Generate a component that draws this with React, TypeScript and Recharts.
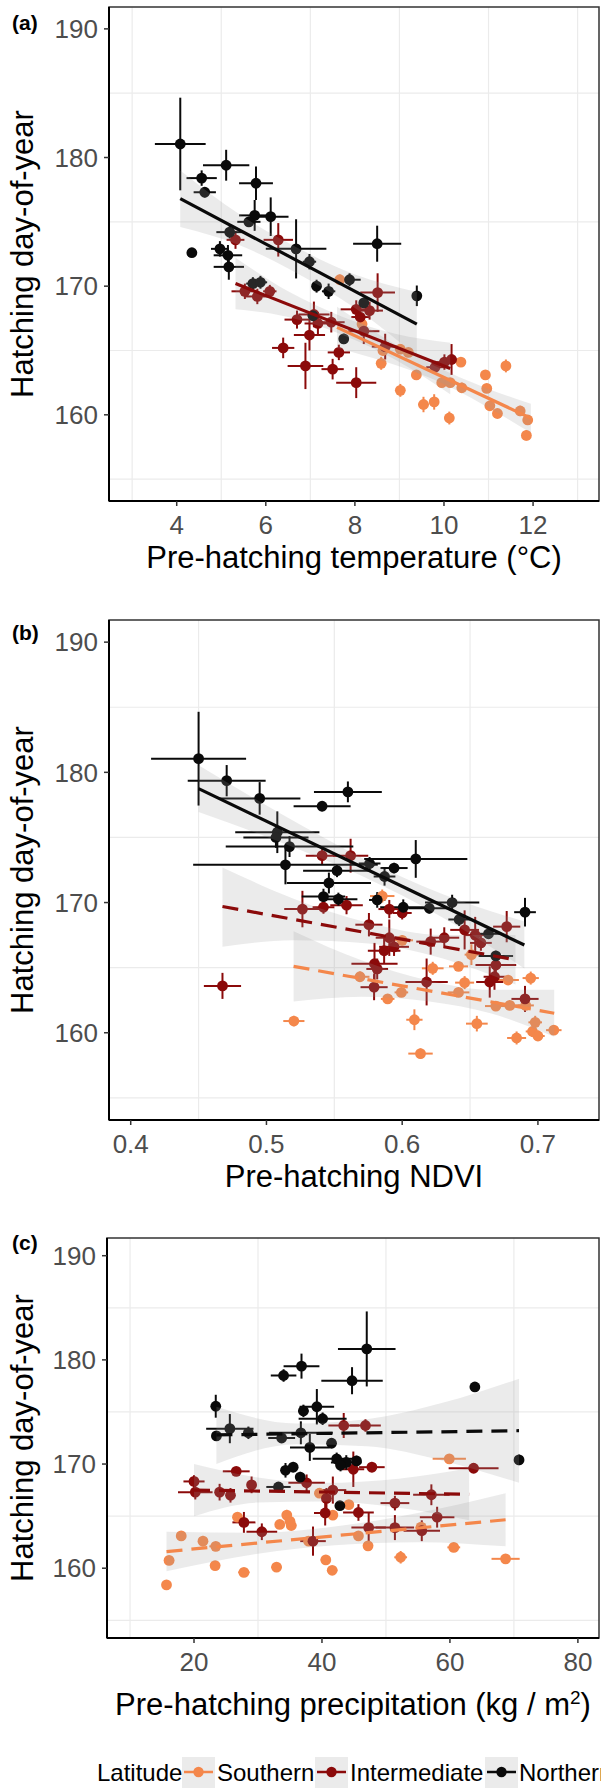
import React from "react";
import {
  ComposedChart,
  Scatter,
  ErrorBar,
  Area,
  Line,
  XAxis,
  YAxis,
  CartesianGrid,
  ReferenceArea,
} from "recharts";

const FONT = '"Liberation Sans", Arial, Helvetica, sans-serif';
const SOUTH = "#F4874B";
const MID = "#8B0A0A";
const NORTH = "#0A0A0A";

// shared y axis
const yDomain = [153.3, 191.7];
const yTicks = [160, 170, 180, 190];
const yGrid = [155, 165, 175, 185];

// x axes
const aDomain = [2.48, 13.48];
const aTicks = [4, 6, 8, 10, 12];
const aGrid = [3, 5, 7, 9, 11, 13];
const bDomain = [0.384, 0.745];
const bTicks = [0.4, 0.5, 0.6, 0.7];
const bGrid = [0.45, 0.55, 0.65];
const cDomain = [6.4, 83.3];
const cTicks = [20, 40, 60, 80];
const cGrid = [10, 30, 50, 70];

// points: [x, y, xerr, yerr]
const aNorth = [
  [4.08, 181.05, 0.57, 3.6], [4.56, 178.4, 0.34, 0.6], [4.63, 177.3, 0.25, 0.4],
  [5.11, 179.4, 0.52, 1.2], [5.78, 178.0, 0.38, 1.3], [5.75, 175.5, 0.35, 1.2],
  [5.62, 175.0, 0.26, 0.4], [6.11, 175.4, 0.4, 1.5], [5.19, 174.2, 0.3, 0.5],
  [4.34, 172.6, 0.08, 0.3], [4.97, 172.9, 0.2, 0.6], [5.15, 172.4, 0.32, 0.8],
  [5.17, 171.5, 0.34, 1.0], [6.68, 172.9, 0.68, 2.3], [6.98, 171.9, 0.15, 0.6],
  [8.5, 173.3, 0.54, 1.4], [5.71, 170.2, 0.15, 0.5], [5.88, 170.3, 0.15, 0.5],
  [7.14, 170.0, 0.1, 0.5], [7.41, 169.6, 0.15, 0.6], [7.88, 170.5, 0.25, 0.5],
  [9.39, 169.25, 0.1, 0.8], [7.06, 167.7, 0.12, 0.4], [8.2, 168.7, 0.1, 0.4],
  [7.75, 165.9, 0.1, 0.4],
];
const aMid = [
  [5.32, 173.6, 0.2, 0.7], [6.28, 173.6, 0.33, 1.3], [8.51, 169.5, 0.39, 1.5],
  [5.53, 169.6, 0.3, 0.6], [5.81, 169.2, 0.3, 0.6], [6.09, 169.6, 0.15, 0.5],
  [6.7, 167.4, 0.28, 0.7], [7.08, 167.8, 0.35, 1.0], [7.17, 167.1, 0.3, 0.9],
  [7.47, 167.2, 0.3, 0.8], [6.98, 166.2, 0.35, 1.2], [6.39, 165.2, 0.25, 0.8],
  [6.89, 163.8, 0.4, 1.8], [7.5, 163.55, 0.25, 0.8], [7.64, 164.85, 0.25, 0.6],
  [8.03, 162.5, 0.45, 1.2], [8.03, 168.2, 0.35, 0.7], [8.33, 168.1, 0.3, 0.7],
  [8.12, 167.6, 0.2, 0.5], [8.2, 166.5, 0.35, 1.0], [8.68, 165.3, 0.3, 1.0],
  [9.8, 163.7, 0.2, 0.5], [10.01, 164.1, 0.2, 0.6], [10.17, 164.3, 0.2, 1.2],
];
const aSouth = [
  [7.66, 170.5, 0.1, 0.4], [8.16, 167.05, 0.1, 0.4], [8.59, 164.0, 0.1, 0.5],
  [8.63, 165.0, 0.1, 0.4], [9.02, 165.1, 0.1, 0.3], [9.2, 164.85, 0.1, 0.3],
  [9.02, 161.9, 0.1, 0.5], [9.38, 163.1, 0.1, 0.3], [9.54, 160.8, 0.12, 0.6],
  [9.78, 161.0, 0.1, 0.6], [9.95, 162.5, 0.1, 0.3], [10.14, 162.5, 0.1, 0.3],
  [10.12, 159.75, 0.1, 0.5], [10.38, 164.1, 0.1, 0.3], [10.4, 162.1, 0.1, 0.4],
  [10.93, 163.1, 0.1, 0.3], [10.96, 162.05, 0.1, 0.3], [11.03, 160.7, 0.1, 0.3],
  [11.2, 160.1, 0.1, 0.3], [11.39, 163.8, 0.1, 0.5], [11.71, 160.3, 0.1, 0.4],
  [11.88, 159.6, 0.1, 0.3], [11.85, 158.4, 0.1, 0.4],
];

const bNorth = [
  [0.45, 181.05, 0.035, 3.6], [0.4707, 179.36, 0.0287, 1.2], [0.495, 178.0, 0.03, 1.25],
  [0.541, 177.4, 0.021, 0.4], [0.56, 178.5, 0.025, 0.8], [0.508, 175.4, 0.031, 1.6],
  [0.507, 175.0, 0.024, 0.8], [0.517, 174.3, 0.047, 0.8], [0.514, 172.9, 0.068, 1.5],
  [0.576, 173.0, 0.008, 0.5], [0.552, 172.45, 0.025, 0.5], [0.594, 172.65, 0.01, 0.4],
  [0.61, 173.35, 0.038, 1.45], [0.587, 172.0, 0.008, 0.7], [0.546, 171.5, 0.031, 0.8],
  [0.542, 170.46, 0.016, 0.6], [0.553, 170.26, 0.014, 0.5], [0.5816, 170.2, 0.006, 0.6],
  [0.6008, 169.64, 0.017, 0.6], [0.62, 169.56, 0.0155, 0.4], [0.6368, 170.0, 0.02, 0.6],
  [0.642, 168.7, 0.008, 0.5], [0.6636, 167.6, 0.01, 0.4], [0.669, 165.9, 0.0127, 0.4],
  [0.6905, 169.26, 0.008, 1.1],
];
const bMid = [
  [0.541, 173.6, 0.012, 0.7], [0.562, 173.6, 0.013, 1.3], [0.4676, 163.6, 0.0137, 1.0],
  [0.5265, 169.5, 0.0134, 1.4], [0.542, 169.64, 0.008, 0.5], [0.559, 169.8, 0.012, 0.7],
  [0.5755, 168.3, 0.01, 0.9], [0.5905, 169.5, 0.008, 0.7], [0.6, 169.2, 0.007, 0.5],
  [0.5905, 167.3, 0.01, 1.4], [0.5867, 166.3, 0.012, 1.0], [0.594, 166.6, 0.011, 0.7],
  [0.5796, 165.3, 0.017, 1.6], [0.5816, 164.9, 0.008, 0.8], [0.5793, 163.5, 0.01, 1.0],
  [0.621, 167.0, 0.0106, 1.0], [0.631, 167.3, 0.011, 0.8], [0.618, 163.9, 0.0156, 1.8],
  [0.646, 167.9, 0.0106, 1.5], [0.6538, 167.5, 0.008, 1.4], [0.658, 166.9, 0.008, 0.6],
  [0.677, 168.15, 0.01, 1.2], [0.669, 165.2, 0.015, 1.0], [0.668, 164.3, 0.008, 1.0],
  [0.6645, 163.9, 0.01, 1.2], [0.6905, 162.6, 0.01, 1.0],
];
const bSouth = [
  [0.5202, 160.9, 0.0078, 0.4], [0.5689, 164.3, 0.007, 0.4], [0.5853, 170.5, 0.009, 0.5],
  [0.6, 167.1, 0.008, 0.4], [0.5893, 162.6, 0.005, 0.3], [0.5994, 163.1, 0.005, 0.3],
  [0.609, 161.0, 0.006, 0.8], [0.6135, 158.4, 0.009, 0.4], [0.6225, 164.95, 0.008, 0.5],
  [0.6415, 165.1, 0.007, 0.3], [0.6415, 163.1, 0.008, 0.3], [0.646, 163.85, 0.007, 0.5],
  [0.651, 166.0, 0.005, 0.8], [0.655, 160.7, 0.008, 0.6], [0.669, 162.05, 0.008, 0.3],
  [0.6793, 162.1, 0.008, 0.3], [0.678, 164.05, 0.008, 0.3], [0.6843, 159.6, 0.007, 0.5],
  [0.6947, 164.2, 0.006, 0.5], [0.691, 162.1, 0.006, 0.3], [0.698, 160.8, 0.005, 0.5],
  [0.696, 160.1, 0.005, 0.3], [0.7, 159.75, 0.005, 0.3], [0.7117, 160.2, 0.0057, 0.3],
];

const cNorth = [
  [47.0, 181.05, 4.5, 3.6], [36.8, 179.4, 2.8, 1.2], [34.0, 178.5, 2.0, 0.6],
  [44.7, 178.0, 4.8, 1.3], [63.9, 177.4, 0.6, 0.3], [23.4, 175.55, 0.6, 1.1],
  [39.2, 175.5, 2.7, 1.7], [37.1, 175.1, 0.8, 0.6], [40.1, 174.35, 3.75, 0.6],
  [25.6, 173.4, 3.7, 1.4], [23.5, 172.7, 0.5, 0.3], [28.5, 173.0, 0.6, 0.6],
  [33.7, 172.5, 2.1, 0.4], [36.7, 173.0, 5.0, 1.1], [38.1, 171.6, 3.1, 1.3],
  [41.5, 172.0, 0.5, 0.5], [42.3, 170.5, 3.75, 0.6], [43.8, 170.15, 2.4, 0.7],
  [45.4, 170.3, 0.6, 0.5], [42.9, 169.9, 0.5, 0.6], [34.3, 169.4, 0.6, 0.7],
  [35.5, 169.7, 0.5, 0.5], [70.8, 170.4, 0.3, 0.5], [36.6, 168.75, 0.6, 0.5],
  [33.2, 167.8, 1.9, 0.3], [42.8, 166.0, 0.3, 0.3],
];
const cMid = [
  [43.4, 173.7, 2.4, 1.2], [46.8, 173.7, 2.4, 0.6], [26.6, 169.3, 2.1, 0.4],
  [44.9, 169.5, 1.7, 1.7], [47.8, 169.7, 2.0, 0.5], [63.7, 169.6, 3.9, 0.5],
  [20.0, 168.33, 1.65, 0.6], [20.2, 167.3, 2.7, 0.7], [24.0, 167.3, 0.6, 0.8],
  [25.7, 167.0, 0.5, 0.7], [29.0, 168.0, 0.6, 0.8], [37.6, 168.2, 2.85, 0.8],
  [41.7, 167.5, 2.1, 1.3], [40.7, 166.7, 0.6, 1.0], [40.5, 165.3, 1.75, 1.2],
  [45.7, 165.35, 2.4, 0.8], [51.4, 166.25, 2.25, 0.7], [57.1, 167.05, 2.85, 1.0],
  [58.0, 164.9, 2.7, 1.0], [27.8, 164.4, 1.8, 1.0], [30.6, 163.5, 2.4, 0.8],
  [38.6, 162.6, 2.0, 1.4], [47.3, 163.9, 2.7, 1.4], [51.4, 163.9, 3.0, 1.2],
  [55.6, 163.6, 2.85, 1.0],
];
const cSouth = [
  [59.9, 170.5, 2.6, 0.4], [15.7, 158.4, 0.3, 0.3], [16.1, 160.75, 0.8, 0.4],
  [18.0, 163.1, 0.5, 0.3], [21.4, 162.6, 0.6, 0.5], [23.4, 162.1, 1.0, 0.3],
  [23.3, 160.25, 0.6, 0.3], [27.8, 159.6, 0.9, 0.3], [32.9, 160.1, 0.8, 0.3],
  [26.8, 164.9, 0.5, 0.3], [33.4, 164.2, 0.5, 0.3], [34.5, 165.1, 0.5, 0.5],
  [35.2, 164.1, 0.8, 0.3], [35.0, 164.5, 0.5, 0.3], [37.9, 162.6, 0.5, 0.3],
  [39.6, 167.2, 0.5, 0.3], [40.6, 160.8, 0.8, 0.3], [41.6, 159.8, 0.8, 0.3],
  [41.7, 165.1, 0.5, 0.3], [44.2, 166.1, 0.5, 0.3], [45.7, 163.1, 0.5, 0.3],
  [47.2, 162.15, 0.5, 0.3], [52.3, 161.05, 1.0, 0.6], [55.5, 163.95, 0.5, 0.3],
  [60.6, 162.0, 1.0, 0.3], [68.7, 160.9, 2.2, 0.4],
];

// fitted lines: [x, y]; confidence bands: [x, lo, hi]
const aNorthFit = [[4.08, 176.8], [9.39, 167.05]];
const aNorthBand = [[4.08, 174.6, 179.0], [5.4, 173.2, 175.6], [6.7, 171.0, 173.0], [8.0, 168.3, 170.9], [9.39, 164.55, 169.55]];
const aMidFit = [[5.32, 170.2], [10.14, 163.6]];
const aMidBand = [[5.32, 168.2, 172.2], [6.5, 167.6, 169.6], [7.7, 166.25, 167.65], [8.9, 164.3, 166.3], [10.14, 161.6, 165.6]];
const aSouthFit = [[7.6, 166.8], [11.95, 159.74]];
const aSouthBand = [[7.6, 165.2, 168.4], [8.7, 164.1, 165.9], [9.8, 162.7, 163.8], [10.9, 160.75, 162.15], [11.95, 158.6, 160.85]];

const bNorthFit = [[0.45, 178.75], [0.69, 166.74]];
const bNorthBand = [[0.45, 176.95, 180.55], [0.51, 174.65, 176.85], [0.57, 172.05, 173.45], [0.63, 168.84, 170.64], [0.69, 164.94, 168.54]];
const bMidFit = [[0.4676, 169.7], [0.6835, 165.6]];
const bMidBand = [[0.4676, 166.6, 172.7], [0.52, 167.1, 170.3], [0.575, 166.85, 168.45], [0.63, 165.7, 167.5], [0.6835, 163.7, 167.5]];
const bSouthFit = [[0.52, 165.1], [0.712, 161.5]];
const bSouthBand = [[0.52, 162.4, 167.8], [0.57, 162.76, 165.56], [0.62, 162.4, 164.0], [0.665, 161.5, 163.3], [0.712, 159.7, 163.3]];

const cNorthFit = [[23.5, 172.8], [70.8, 173.2]];
const cNorthBand = [[23.5, 170.0, 175.5], [36, 171.9, 173.9], [47, 171.7, 174.3], [59, 170.3, 175.9], [70.8, 168.2, 178.2]];
const cMidFit = [[20, 167.5], [63, 167.1]];
const cMidBand = [[20, 165.0, 170.0], [30, 166.3, 168.7], [40, 166.4, 168.2], [52, 165.8, 168.6], [63, 164.6, 169.6]];
const cSouthFit = [[15.7, 161.6], [68.7, 164.65]];
const cSouthBand = [[15.7, 159.7, 163.5], [30, 161.4, 163.4], [42, 162.2, 164.0], [55, 162.5, 165.3], [68.7, 162.1, 167.2]];

const legendLabels = ["Southern", "Intermediate", "Northern"];
const legendColors = [SOUTH, MID, NORTH];

const toPts = (rows: number[][]) => rows.map(([x, y, ex, ey]) => ({ x, y, ex, ey }));
const toFit = (rows: number[][]) => rows.map(([x, y]) => ({ x, y }));
const toBand = (rows: number[][]) => rows.map(([x, lo, hi]) => ({ x, band: [lo, hi] }));

const dot = (color: string) => (p: any) => <circle cx={p.cx} cy={p.cy} r={5.4} fill={color} />;

type Series = { color: string; pts: number[][]; fit: number[][]; band: number[][]; dashed: boolean };

function Panel(props: {
  top: number;
  height: number;
  marginTop: number;
  xHeight: number;
  yWidth: number;
  xDomain: number[];
  xTicks: number[];
  xGrid: number[];
  series: Series[];
  xTitle: React.ReactNode;
  titleDy: number;
  tag: string;
  tagY: number;
}) {
  const { xDomain } = props;
  const yLabel = (p: any) => {
    const vb = p.viewBox;
    const cy = vb.y + vb.height / 2;
    return (
      <g>
        <text x={33} y={cy} transform={`rotate(-90, 33, ${cy})`} textAnchor="middle" fontSize={31} fontFamily={FONT} fill="#000">
          Hatching day-of-year
        </text>
        <text x={12} y={props.tagY} fontSize={21} fontWeight="bold" fontFamily={FONT} fill="#000">
          {props.tag}
        </text>
      </g>
    );
  };
  const xLabel = (p: any) => {
    const vb = p.viewBox;
    return (
      <text x={vb.x + vb.width / 2} y={vb.y + props.titleDy} textAnchor="middle" fontSize={31} fontFamily={FONT} fill="#000">
        {props.xTitle}
      </text>
    );
  };
  return (
    <div style={{ position: "absolute", left: 0, top: props.top, width: 601, height: props.height }}>
      <ComposedChart width={601} height={props.height} margin={{ top: props.marginTop, right: 2, left: 0, bottom: 0 }}>
        <CartesianGrid horizontalValues={yGrid} verticalValues={props.xGrid} stroke="#EBEBEB" strokeWidth={1.2} />
        <XAxis
          type="number"
          dataKey="x"
          domain={xDomain}
          ticks={props.xTicks}
          allowDataOverflow
          height={props.xHeight}
          tickSize={5}
          tickMargin={10}
          tick={{ fill: "#4D4D4D", fontSize: 26, fontFamily: FONT }}
          axisLine={{ stroke: "#000", strokeWidth: 2 }}
          tickLine={{ stroke: "#333", strokeWidth: 1.5 }}
          label={xLabel}
        />
        <YAxis
          type="number"
          dataKey="y"
          domain={yDomain}
          ticks={yTicks}
          allowDataOverflow
          width={props.yWidth}
          tickSize={5}
          tickMargin={6}
          tick={{ fill: "#4D4D4D", fontSize: 26, fontFamily: FONT }}
          axisLine={{ stroke: "#000", strokeWidth: 2 }}
          tickLine={{ stroke: "#333", strokeWidth: 1.5 }}
          label={yLabel}
        />
        <ReferenceArea x1={xDomain[0]} x2={xDomain[1]} y1={yDomain[0]} y2={yDomain[1]} fill="none" stroke="#333" strokeWidth={1.5} />
        {props.series.map((s, i) => (
          <Scatter key={`s${i}`} data={toPts(s.pts)} shape={dot(s.color)} isAnimationActive={false}>
            <ErrorBar dataKey="ex" direction="x" width={0} stroke={s.color} strokeWidth={2} isAnimationActive={false} />
            <ErrorBar dataKey="ey" direction="y" width={0} stroke={s.color} strokeWidth={2} isAnimationActive={false} />
          </Scatter>
        ))}
        {props.series.map((s, i) => (
          <Area
            key={`b${i}`}
            data={toBand(s.band)}
            dataKey="band"
            type="monotone"
            stroke="none"
            fill="#999999"
            fillOpacity={0.2}
            isAnimationActive={false}
            zIndex={650}
          />
        ))}
        {props.series.map((s, i) => (
          <Line
            key={`l${i}`}
            data={toFit(s.fit)}
            dataKey="y"
            type="linear"
            stroke={s.color}
            strokeWidth={3.2}
            strokeDasharray={s.dashed ? "16 9" : undefined}
            dot={false}
            activeDot={false}
            isAnimationActive={false}
            zIndex={700}
          />
        ))}
      </ComposedChart>
    </div>
  );
}

function Legend() {
  const textX = [217, 350, 519];
  const keyX = [182, 315, 485];
  return (
    <svg width={601} height={48} style={{ position: "absolute", left: 0, top: 1740 }}>
      <text x={97} y={41} fontSize={24} fontFamily={FONT} fill="#000">Latitude</text>
      {legendLabels.map((l, i) => (
        <g key={l}>
          <rect x={keyX[i]} y={17} width={33} height={31} fill="#EBEBEB" />
          <line x1={keyX[i] + 2} x2={keyX[i] + 31} y1={32} y2={32} stroke={legendColors[i]} strokeWidth={2.5} />
          <circle cx={keyX[i] + 16.5} cy={32} r={5.2} fill={legendColors[i]} />
          <text x={textX[i]} y={41} fontSize={24} fontFamily={FONT} fill="#000">{l}</text>
        </g>
      ))}
    </svg>
  );
}

export default function App() {
  return (
    <div style={{ position: "absolute", left: 0, top: 0, width: 601, height: 1788, background: "#fff", overflow: "hidden" }}>
      <Panel
        top={0}
        height={600}
        marginTop={7}
        xHeight={99}
        yWidth={109}
        xDomain={aDomain}
        xTicks={aTicks}
        xGrid={aGrid}
        series={[
          { color: SOUTH, pts: aSouth, fit: aSouthFit, band: aSouthBand, dashed: false },
          { color: MID, pts: aMid, fit: aMidFit, band: aMidBand, dashed: false },
          { color: NORTH, pts: aNorth, fit: aNorthFit, band: aNorthBand, dashed: false },
        ]}
        xTitle="Pre-hatching temperature (°C)"
        titleDy={67}
        tag="(a)"
        tagY={30}
      />
      <Panel
        top={600}
        height={600}
        marginTop={20}
        xHeight={80}
        yWidth={109}
        xDomain={bDomain}
        xTicks={bTicks}
        xGrid={bGrid}
        series={[
          { color: SOUTH, pts: bSouth, fit: bSouthFit, band: bSouthBand, dashed: true },
          { color: MID, pts: bMid, fit: bMidFit, band: bMidBand, dashed: true },
          { color: NORTH, pts: bNorth, fit: bNorthFit, band: bNorthBand, dashed: false },
        ]}
        xTitle="Pre-hatching NDVI"
        titleDy={67}
        tag="(b)"
        tagY={40}
      />
      <Panel
        top={1200}
        height={540}
        marginTop={38}
        xHeight={102}
        yWidth={107}
        xDomain={cDomain}
        xTicks={cTicks}
        xGrid={cGrid}
        series={[
          { color: SOUTH, pts: cSouth, fit: cSouthFit, band: cSouthBand, dashed: true },
          { color: MID, pts: cMid, fit: cMidFit, band: cMidBand, dashed: true },
          { color: NORTH, pts: cNorth, fit: cNorthFit, band: cNorthBand, dashed: true },
        ]}
        xTitle={
          <>
            Pre-hatching precipitation (kg / m
            <tspan dy={-11} fontSize={19}>2</tspan>
            <tspan dy={11}>)</tspan>
          </>
        }
        titleDy={77}
        tag="(c)"
        tagY={50}
      />
      <Legend />
    </div>
  );
}
